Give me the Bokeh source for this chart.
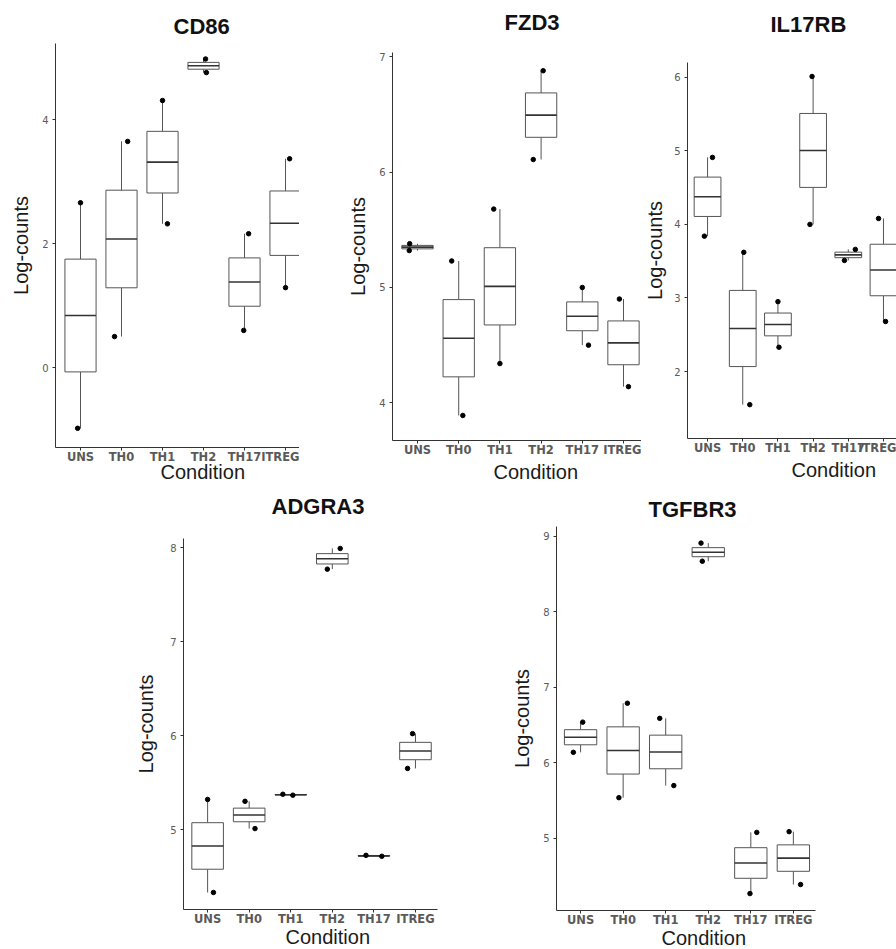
import numpy as np
from bokeh.plotting import figure
from bokeh.layouts import row, column
from bokeh.models import Range1d, FixedTicker, Title, Spacer
from bokeh.embed import file_html
from bokeh.resources import INLINE

CONDITIONS = ["UNS", "TH0", "TH1", "TH2", "TH17", "ITREG"]

# Two samples per condition (higher / lower log-count)
CD86_HIGH = [2.66, 3.65, 4.31, 4.98, 2.16, 3.37]
CD86_LOW = [-0.98, 0.50, 2.32, 4.76, 0.60, 1.29]
CD86_YTICKS = [0, 2, 4]

FZD3_HIGH = [5.38, 5.23, 5.68, 6.88, 5.00, 4.90]
FZD3_LOW = [5.32, 3.89, 4.34, 6.11, 4.50, 4.14]
FZD3_YTICKS = [4, 5, 6, 7]

IL17RB_HIGH = [4.91, 3.62, 2.95, 6.01, 3.66, 4.08]
IL17RB_LOW = [3.84, 1.55, 2.33, 4.00, 3.51, 2.68]
IL17RB_YTICKS = [2, 3, 4, 5, 6]

ADGRA3_HIGH = [5.32, 5.30, 5.375, 7.99, 4.725, 6.02]
ADGRA3_LOW = [4.33, 5.01, 5.365, 7.77, 4.715, 5.65]
ADGRA3_YTICKS = [5, 6, 7, 8]

TGFBR3_HIGH = [6.54, 6.79, 6.59, 8.91, 5.08, 5.09]
TGFBR3_LOW = [6.14, 5.54, 5.70, 8.67, 4.27, 4.39]
TGFBR3_YTICKS = [5, 6, 7, 8, 9]

# horizontal jitter of the dots (fraction of a category slot)
CD86_JIT_HIGH = [0.00, 0.15, 0.00, 0.05, 0.10, 0.10]
CD86_JIT_LOW = [-0.07, -0.17, 0.12, 0.07, -0.02, 0.00]
FZD3_JIT_HIGH = [-0.19, -0.17, -0.15, 0.05, 0.00, -0.10]
FZD3_JIT_LOW = [-0.20, 0.10, 0.00, -0.19, 0.15, 0.12]
IL17RB_JIT_HIGH = [0.14, 0.03, 0.00, -0.03, 0.20, -0.14]
IL17RB_JIT_LOW = [-0.09, 0.20, 0.03, -0.09, -0.11, 0.06]
ADGRA3_JIT_HIGH = [0.00, -0.10, -0.19, 0.19, -0.19, -0.07]
ADGRA3_JIT_LOW = [0.14, 0.14, 0.05, -0.12, 0.19, -0.19]
TGFBR3_JIT_HIGH = [0.05, 0.10, -0.14, -0.17, 0.14, -0.10]
TGFBR3_JIT_LOW = [-0.17, -0.10, 0.19, -0.14, -0.02, 0.17]

FONT = "Liberation Sans"
TICK_FONT = "DejaVu Sans"
AX_COL = "#333333"
BOX_COL = "#555555"


def panel(name, high, low, jit_high, jit_low, yticks, xr, yr, frame, border,
          title_off, title_gap, xlab_off, xlab_gap, ylab_gap=7):
    fw, fh = frame
    bl, br, bt, bb = border
    p = figure(frame_width=fw, frame_height=fh,
               x_range=Range1d(*xr), y_range=Range1d(*yr),
               min_border_left=bl, min_border_right=br,
               min_border_top=bt, min_border_bottom=bb,
               frame_align=False,
               output_backend="svg", toolbar_location=None)
    p.title_location = None
    # invisible spacer between frame and the gene title
    p.add_layout(Title(text=" ", text_font_size="1px", standoff=title_gap), "above")
    p.add_layout(Title(text=name, align="left", offset=title_off, standoff=0,
                       text_font=FONT, text_font_size="22px", text_font_style="bold",
                       text_color="#111111"), "above")

    x = np.arange(1, len(CONDITIONS) + 1)
    samples = np.vstack([high, low])
    q1 = np.percentile(samples, 25, axis=0)
    med = np.percentile(samples, 50, axis=0)
    q3 = np.percentile(samples, 75, axis=0)
    hi = samples.max(axis=0)
    lo = samples.min(axis=0)
    bw = 0.76

    p.segment(x, q3, x, hi, line_color=BOX_COL, line_width=1)
    p.segment(x, q1, x, lo, line_color=BOX_COL, line_width=1)
    p.vbar(x=x, width=bw, bottom=q1, top=q3, fill_color="white",
           line_color=BOX_COL, line_width=1)
    p.segment(x - bw / 2, med, x + bw / 2, med, line_color="#333333", line_width=1.6)
    p.scatter(x + np.array(jit_high), high, size=4.5, color="black")
    p.scatter(x + np.array(jit_low), low, size=4.5, color="black")

    p.xgrid.visible = False
    p.ygrid.visible = False
    p.outline_line_color = None

    p.xaxis.ticker = FixedTicker(ticks=[int(i) for i in x])
    p.xaxis.major_label_overrides = {int(i): c for i, c in zip(x, CONDITIONS)}
    p.yaxis.ticker = FixedTicker(ticks=yticks)
    for ax in (p.xaxis[0], p.yaxis[0]):
        ax.axis_line_color = AX_COL
        ax.axis_line_width = 1
        ax.major_tick_line_color = AX_COL
        ax.major_tick_in = 0
        ax.major_tick_out = 3
        ax.minor_tick_line_color = None
        ax.major_label_text_font = TICK_FONT
        ax.major_label_text_color = "#5a5a5a"
    p.xaxis.major_label_text_font_size = "11.5px"
    p.xaxis.major_label_text_font_style = "bold"
    p.xaxis.major_label_standoff = -1
    p.yaxis.major_label_text_font_size = "10px"
    p.yaxis.major_label_standoff = 4

    p.yaxis.axis_label = "Log-counts"
    p.yaxis.axis_label_text_font = FONT
    p.yaxis.axis_label_text_font_size = "20px"
    p.yaxis.axis_label_text_font_style = "normal"
    p.yaxis.axis_label_text_color = "#1a1a1a"
    p.yaxis.axis_label_standoff = ylab_gap

    p.add_layout(Title(text="Condition", align="left", offset=xlab_off,
                       standoff=xlab_gap, text_font=FONT, text_font_size="20px",
                       text_font_style="normal", text_color="#1a1a1a"), "below")
    return p


cd86 = panel("CD86", CD86_HIGH, CD86_LOW, CD86_JIT_HIGH, CD86_JIT_LOW, CD86_YTICKS,
             (0.39, 6.341), (-1.29, 5.23), (244, 404), (55, 0, 43, 43),
             118, 2, 105, -16)
fzd3 = panel("FZD3", FZD3_HIGH, FZD3_LOW, FZD3_JIT_HIGH, FZD3_JIT_LOW, FZD3_YTICKS,
             (0.393, 6.437), (3.673, 7.038), (249, 388), (93, 0, 52, 50),
             112, 15, 101, -2)
il17rb = panel("IL17RB", IL17RB_HIGH, IL17RB_LOW, IL17RB_JIT_HIGH, IL17RB_JIT_LOW,
               IL17RB_YTICKS, (0.43, 6.37), (1.09, 6.20), (209, 376), (46, 0, 62, 52),
               83, 23, 104, -2, 5)
adgra3 = panel("ADGRA3", ADGRA3_HIGH, ADGRA3_LOW, ADGRA3_JIT_HIGH, ADGRA3_JIT_LOW,
               ADGRA3_YTICKS, (0.42, 6.53), (4.149, 8.096), (254, 371), (63, 13, 48, 40),
               88, 17, 102, -10, 10)
tgfbr3 = panel("TGFBR3", TGFBR3_HIGH, TGFBR3_LOW, TGFBR3_JIT_HIGH, TGFBR3_JIT_LOW,
               TGFBR3_YTICKS, (0.434, 6.52), (4.046, 9.13), (259, 384), (106, 81, 36, 39),
               92, 2, 105, -9)

top = row(cd86, fzd3, il17rb)
bottom = row(Spacer(width=120, height=459), adgra3, tgfbr3)
layout = column(top, bottom)

open("out.html", "w").write(file_html(layout, INLINE))
